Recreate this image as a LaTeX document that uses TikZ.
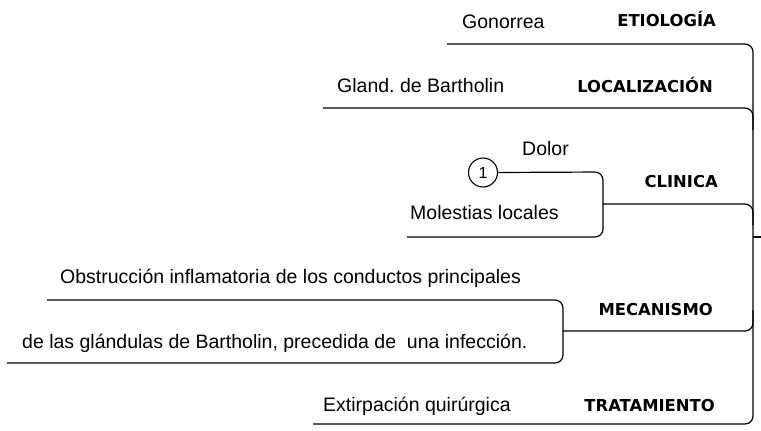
\documentclass[tikz,border=0pt]{standalone}
\usepackage{fontspec}
\setmainfont{Liberation Sans}
\newfontfamily\titlefont{DejaVu Sans}
\frenchspacing
\begin{document}
\begin{tikzpicture}[x=1pt,y=-1pt,
  lbl/.style={font=\fontsize{19.5}{22}\selectfont, inner sep=0pt, anchor=base west},
  ttl/.style={font=\titlefont\bfseries\fontsize{16.4}{18}\selectfont, inner sep=0pt, anchor=base east},
  branch/.style={line width=1.2pt, rounded corners=8pt},
  num/.style={circle, draw, line width=1.1pt, minimum size=29pt, inner sep=0pt, font=\fontsize{16}{18}\selectfont}]
\useasboundingbox (0,0) rectangle (761,431);
\fill[white] (0,0) rectangle (761,431);
% texts
\node[lbl] (gon) at (462,28) {Gonorrea};
\node[ttl] (etio) at (716,26) {ETIOLOGÍA};
\node[lbl] (gland) at (337,92) {Gland. de Bartholin};
\node[ttl] (loc) at (713,92) {LOCALIZACIÓN};
\node[lbl] (dolor) at (522,155) {Dolor};
\node[num] (one) at (483,172.5) {1};
\node[ttl] (clin) at (718,187) {CLINICA};
\node[lbl] (mol) at (410,219) {Molestias locales};
\node[lbl] (obs) at (60,283) {Obstrucción inflamatoria de los conductos principales};
\node[lbl] (glan2) at (22,348) {de las glándulas de Bartholin, precedida de~ una infección.};
\node[ttl] (mec) at (713,315) {MECANISMO};
\node[lbl] (ext) at (323,411) {Extirpación quirúrgica};
\node[ttl] (trat) at (715,411) {TRATAMIENTO};
% coordinates
\coordinate (eS) at (447,44);
\coordinate (sTop) at (753,44);
\coordinate (sBot) at (753,424);
\coordinate (tS) at (313,424);
\coordinate (lS) at (323,108);
\coordinate (lC) at (753,108);
\coordinate (lD) at (753,130);
\coordinate (cTop) at (603,172);
\coordinate (cMid) at (603,204);
\coordinate (cBot) at (603,237);
\coordinate (mS) at (407,237);
\coordinate (cC) at (753,204);
\coordinate (cD) at (753,225);
\coordinate (stub) at (753,237);
\coordinate (stubE) at (761,237);
\coordinate (oS) at (47,300);
\coordinate (mTop) at (563,300);
\coordinate (mMid) at (563,331);
\coordinate (mBot) at (563,363);
\coordinate (gS) at (7,363);
\coordinate (mC) at (753,331);
\coordinate (mU) at (753,310);
% main spine with etiologia and tratamiento
\draw[branch] (eS) -- (sTop) -- (sBot) -- (tS);
\draw[branch] (lS) -- (lC) -- (lD);
\draw[branch] (cMid) -- (cC) -- (cD);
\draw[line width=1.2pt] (stub) -- (stubE);
\draw[branch] (mMid) -- (mC) -- (mU);
% clinica bracket
\draw[branch] (one.east) -- (cTop) -- (cBot) -- (mS);
% mecanismo bracket
\draw[branch] (oS) -- (mTop) -- (mBot) -- (gS);
\end{tikzpicture}
\end{document}
